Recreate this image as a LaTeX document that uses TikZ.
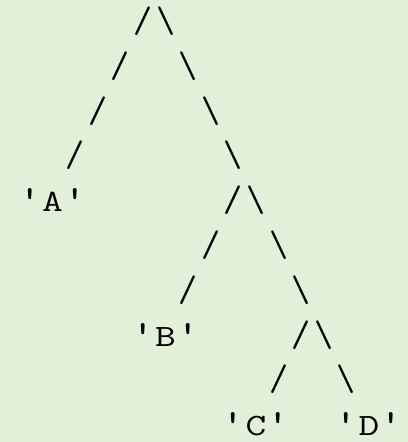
\documentclass[tikz,border=0pt]{standalone}
\definecolor{bggreen}{HTML}{E2EFD9}
\newcommand{\wideglyph}[1]{\scalebox{1.3}[1]{#1}}
\tikzset{
  edge/.style={anchor=base,inner sep=0pt,font=\ttfamily\fontsize{37}{37}\selectfont},
  leaf/.style={anchor=base,inner sep=0pt,font=\ttfamily\fontsize{31}{31}\selectfont},
  tick/.style={anchor=base,inner sep=0pt,font=\ttfamily\bfseries\fontsize{37}{37}\selectfont},
}
\begin{document}
\begin{tikzpicture}[x=22.6pt,y=-44.8pt]
  \fill[bggreen] (0,0) rectangle (18.053,9.866);
  \useasboundingbox (0,0) rectangle (18.053,9.866);
  \begin{scope}[shift={(0.327,0.725)}]
  % root
  \node[edge] (r0l) at (6,0) {/};
  \node[edge] (r0r) at (7,0) {\textbackslash};
  \node[edge] (r1l) at (5,1) {/};
  \node[edge] (r1r) at (8,1) {\textbackslash};
  \node[edge] (r2l) at (4,2) {/};
  \node[edge] (r2r) at (9,2) {\textbackslash};
  \node[edge] (r3l) at (3,3) {/};
  \node[edge] (r3r) at (10,3) {\textbackslash};
  % leaf A and second fork
  \node[tick] (aL) at (1,4) {\textquotesingle};
  \node[leaf] (a) at (2,4) {\wideglyph{A}};
  \node[tick] (aR) at (3,4) {\textquotesingle};
  \node[edge] (r4l) at (10,4) {/};
  \node[edge] (r4r) at (11,4) {\textbackslash};
  \node[edge] (r5l) at (9,5) {/};
  \node[edge] (r5r) at (12,5) {\textbackslash};
  \node[edge] (r6l) at (8,6) {/};
  \node[edge] (r6r) at (13,6) {\textbackslash};
  % leaf B and third fork
  \node[tick] (bL) at (6,7) {\textquotesingle};
  \node[leaf] (b) at (7,7) {\wideglyph{B}};
  \node[tick] (bR) at (8,7) {\textquotesingle};
  \node[edge] (r7l) at (13,7) {/};
  \node[edge] (r7r) at (14,7) {\textbackslash};
  \node[edge] (r8l) at (12,8) {/};
  \node[edge] (r8r) at (15,8) {\textbackslash};
  % leaves C and D
  \node[tick] (cL) at (10,9) {\textquotesingle};
  \node[leaf] (c) at (11,9) {\wideglyph{C}};
  \node[tick] (cR) at (12,9) {\textquotesingle};
  \node[tick] (dL) at (15,9) {\textquotesingle};
  \node[leaf] (d) at (16,9) {\wideglyph{D}};
  \node[tick] (dR) at (17,9) {\textquotesingle};
  \end{scope}
\end{tikzpicture}
\end{document}
